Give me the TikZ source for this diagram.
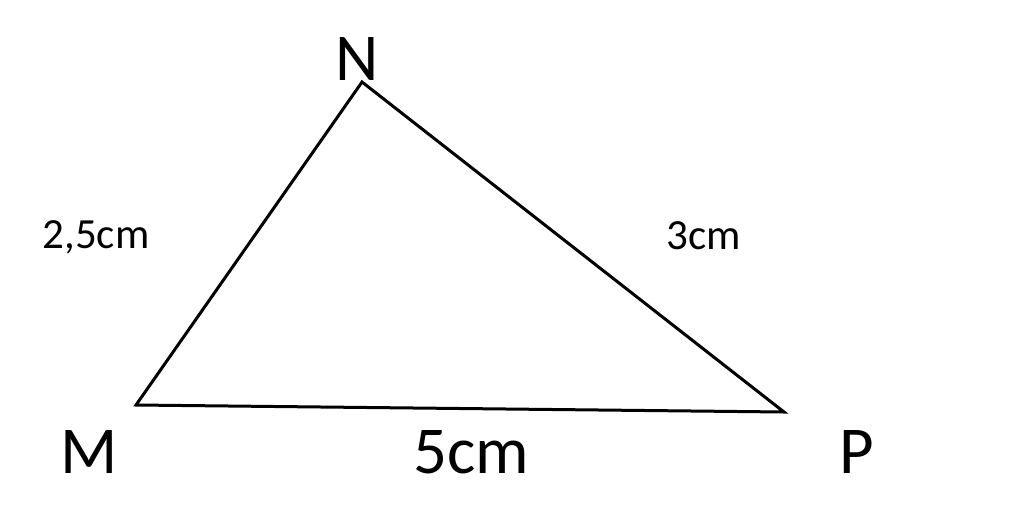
\documentclass[tikz,border=0pt]{standalone}
\usepackage{fontspec}
\setmainfont{Carlito}
\usepackage{tikz}
\usetikzlibrary{positioning}

\tikzset{
  vertexlabel/.style={anchor=base, inner sep=0pt, font=\fontsize{67}{67}\selectfont},
  sidelabel/.style={anchor=base, inner sep=0pt, font=\fontsize{43}{43}\selectfont},
  side/.style={line width=3pt, line join=miter}
}

\begin{document}
\begin{tikzpicture}[x=1pt,y=1pt,yscale=-1]
  \useasboundingbox (0,0) rectangle (1024,527);

  % Vertices
  \coordinate (M) at (136,405);
  \coordinate (N) at (362,82);
  \coordinate (P) at (784,412);

  % Triangle MNP
  \draw [side] (M) -- (N) -- (P) -- cycle;

  % Text Node
  \node [vertexlabel] (labN) at (357,80) {N};
  % Text Node
  \node [vertexlabel] (labM) at (89,473) {M};
  % Text Node
  \node [vertexlabel] (labP) at (857,473) {P};
  % Text Node
  \node [vertexlabel] (labMP) at (471,473) {5cm};
  % Text Node
  \node [sidelabel] (labMN) at (96,248) {2,5cm};
  % Text Node
  \node [sidelabel] (labNP) at (704,249) {3cm};

\end{tikzpicture}
\end{document}
